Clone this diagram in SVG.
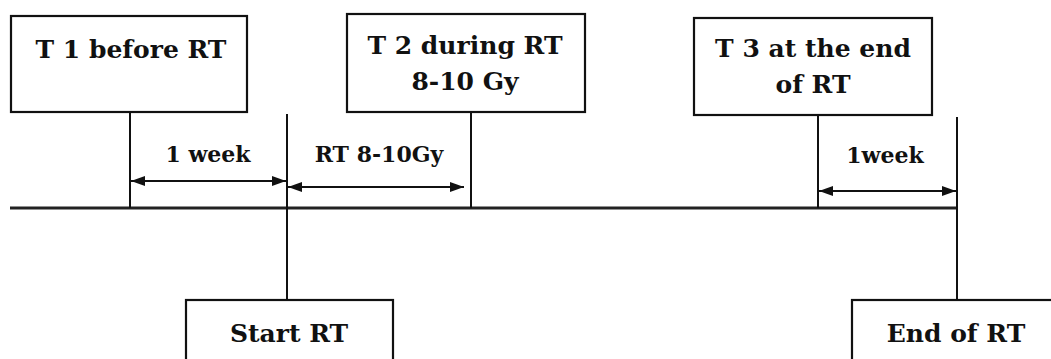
<svg xmlns="http://www.w3.org/2000/svg" width="1051" height="359" viewBox="0 0 1051 359">
<style>
.box{fill:#fff;stroke:#111;stroke-width:2.2}
.ln{stroke:#111;stroke-width:2;fill:none}
.main{stroke:#222;stroke-width:3;fill:none}
text{font-family:'DejaVu Serif',serif;font-weight:bold;fill:#111;text-anchor:middle}
.t{font-size:25px}
.l{font-size:22px}
.ar{stroke:#111;stroke-width:2;fill:none;marker-start:url(#ah);marker-end:url(#ah)}
</style>
<defs>
<marker id="ah" viewBox="0 0 14 10" refX="14" refY="5" markerWidth="14" markerHeight="10" markerUnits="userSpaceOnUse" orient="auto-start-reverse">
<path d="M0,0 L14,5 L0,10 Z" fill="#111"/>
</marker>
</defs>
<g id="connectors">
<line class="main" x1="10" y1="208" x2="958" y2="208"/>
<line class="ln" x1="130" y1="112" x2="130" y2="208"/>
<line class="ln" x1="287" y1="114" x2="287" y2="300"/>
<line class="ln" x1="471" y1="112" x2="471" y2="208"/>
<line class="ln" x1="818" y1="115" x2="818" y2="208"/>
<line class="ln" x1="957" y1="117" x2="957" y2="300"/>
<line class="ar" x1="131" y1="181" x2="286" y2="181"/>
<line class="ar" x1="288" y1="187" x2="464" y2="187"/>
<line class="ar" x1="819" y1="191" x2="956" y2="191"/>
<text class="l" x="208" y="162">1 week</text>
<text class="l" x="379" y="162">RT 8-10Gy</text>
<text class="l" x="885" y="163">1week</text>
</g>
<g id="t1">
<rect class="box" x="11" y="16" width="236" height="96"/>
<text class="t" x="131" y="58">T 1 before RT</text>
</g>
<g id="t2">
<rect class="box" x="347" y="14" width="238" height="98"/>
<text class="t" x="465" y="54">T 2 during RT</text>
<text class="t" x="465" y="90">8-10 Gy</text>
</g>
<g id="t3">
<rect class="box" x="694" y="18" width="238" height="97"/>
<text class="t" x="813" y="57">T 3 at the end</text>
<text class="t" x="813" y="93">of RT</text>
</g>
<g id="start">
<rect class="box" x="186" y="300" width="207" height="80"/>
<text class="t" x="289" y="342">Start RT</text>
</g>
<g id="end">
<rect class="box" x="852" y="300" width="220" height="80"/>
<text class="t" x="956" y="342">End of RT</text>
</g>
</svg>
